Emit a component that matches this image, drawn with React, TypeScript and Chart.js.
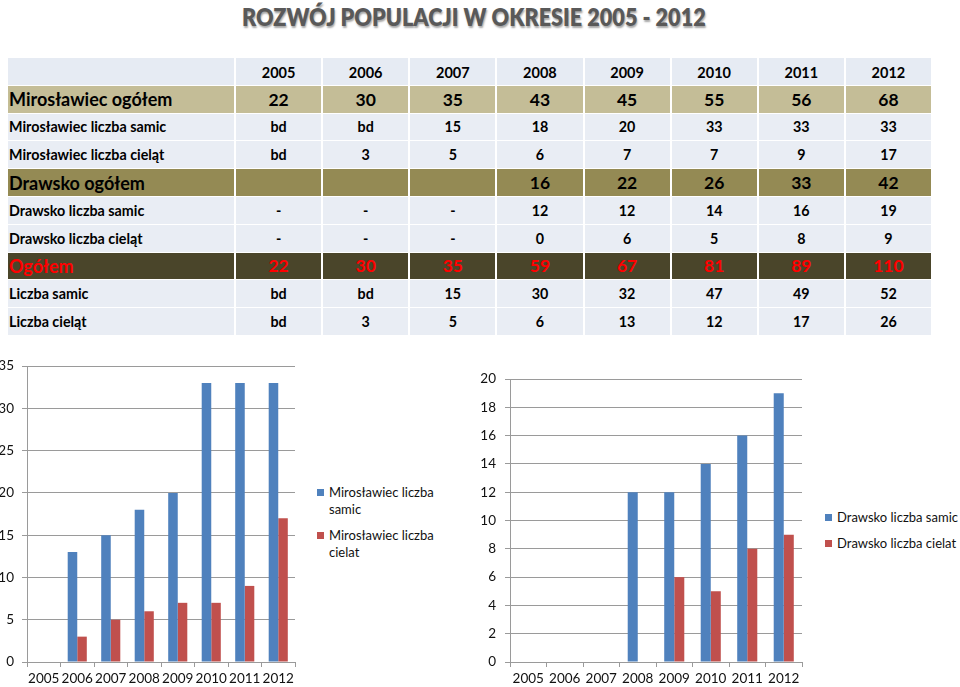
import React, { useEffect, useLayoutEffect, useRef, useState } from 'react';
import { Chart, registerables } from 'chart.js';

Chart.register(...registerables);

const TITLE = 'ROZWÓJ POPULACJI W OKRESIE 2005 - 2012';
const years = ['2005', '2006', '2007', '2008', '2009', '2010', '2011', '2012'];

// table rows
const rowLabels = [
  'Mirosławiec ogółem',
  'Mirosławiec liczba samic',
  'Mirosławiec liczba cieląt',
  'Drawsko ogółem',
  'Drawsko liczba samic',
  'Drawsko liczba cieląt',
  'Ogółem',
  'Liczba samic',
  'Liczba cieląt',
];
const mirOgolem = ['22', '30', '35', '43', '45', '55', '56', '68'];
const mirSamicTab = ['bd', 'bd', '15', '18', '20', '33', '33', '33'];
const mirCielatTab = ['bd', '3', '5', '6', '7', '7', '9', '17'];
const drOgolem = ['', '', '', '16', '22', '26', '33', '42'];
const drSamicTab = ['-', '-', '-', '12', '12', '14', '16', '19'];
const drCielatTab = ['-', '-', '-', '0', '6', '5', '8', '9'];
const ogolem = ['22', '30', '35', '59', '67', '81', '89', '110'];
const liczbaSamic = ['bd', 'bd', '15', '30', '32', '47', '49', '52'];
const liczbaCielat = ['bd', '3', '5', '6', '13', '12', '17', '26'];
const rowValues = [mirOgolem, mirSamicTab, mirCielatTab, drOgolem, drSamicTab, drCielatTab, ogolem, liczbaSamic, liczbaCielat];
const rowKinds = ['tan', 'plain', 'plain', 'olive', 'plain', 'plain', 'dark', 'plain', 'plain'];

// chart series
const mirSamic = [null, 13, 15, 18, 20, 33, 33, 33];
const mirCielat = [null, 3, 5, 6, 7, 7, 9, 17];
const drSamic = [null, null, null, 12, 12, 14, 16, 19];
const drCielat = [null, null, null, 0, 6, 5, 8, 9];

const FONT = "Lato, 'Open Sans', sans-serif";
const BLUE = '#4f81bd';
const RED = '#c0504d';
const AXIS = '#9a9a9a';

type BarProps = {
  left: number; top: number; width: number; height: number;
  a: (number | null)[]; b: (number | null)[];
  aLabel: string; bLabel: string;
  max: number; step: number; yWidth: number; padTop: number; padRight: number;
  tickPad: number; catPct: number;
};

function BarChart(p: BarProps) {
  const ref = useRef<HTMLCanvasElement | null>(null);
  useEffect(() => {
    if (!ref.current) return;
    const chart = new Chart(ref.current, {
      type: 'bar',
      data: {
        labels: years,
        datasets: [
          { label: p.aLabel, data: p.a, backgroundColor: BLUE, borderWidth: 0, categoryPercentage: p.catPct, barPercentage: 1 },
          { label: p.bLabel, data: p.b, backgroundColor: RED, borderWidth: 0, categoryPercentage: p.catPct, barPercentage: 1 },
        ],
      },
      options: {
        responsive: false,
        animation: false,
        layout: { padding: { top: p.padTop, right: p.padRight, left: 0, bottom: 0 } },
        plugins: { legend: { display: false }, tooltip: { enabled: false } },
        scales: {
          x: {
            grid: { display: true, drawOnChartArea: false, drawTicks: true, tickLength: 5, color: AXIS, offset: true },
            border: { display: true, color: AXIS },
            ticks: { font: { family: FONT, size: 13.5 }, color: '#111', padding: 4, maxRotation: 0, autoSkip: false },
            afterFit: (s: any) => { s.height = 25; },
          },
          y: {
            min: 0,
            max: p.max,
            grid: { color: AXIS, tickLength: 5, drawTicks: true },
            border: { display: true, color: AXIS },
            ticks: { stepSize: p.step, font: { family: FONT, size: 13.5 }, color: '#111', padding: p.tickPad },
            afterFit: (s: any) => { s.width = p.yWidth; },
          },
        },
      } as any,
    });
    return () => chart.destroy();
  }, []);
  return (
    <canvas
      ref={ref}
      width={p.width}
      height={p.height}
      style={{ position: 'absolute', left: p.left, top: p.top, width: p.width, height: p.height }}
    />
  );
}

function LegendItem({ x, y, color, lines }: { x: number; y: number; color: string; lines: string[] }) {
  return (
    <div style={{ position: 'absolute', left: x, top: y, fontFamily: FONT, fontSize: 13, lineHeight: '17px', color: '#111', whiteSpace: 'nowrap' }}>
      <div style={{ position: 'absolute', left: 0, top: 5, width: 7, height: 7, background: color }} />
      <div style={{ marginLeft: 12 }}>
        {lines.map((l, i) => (
          <div key={i}>{l}</div>
        ))}
      </div>
    </div>
  );
}

function Title() {
  const ref = useRef<HTMLSpanElement | null>(null);
  const [sx, setSx] = useState(1);
  useLayoutEffect(() => {
    if (ref.current) {
      const w = ref.current.offsetWidth;
      if (w > 0) setSx(464 / w);
    }
  }, []);
  return (
    <div style={{ position: 'absolute', left: 0, top: 1, width: 948, textAlign: 'center' }}>
      <span
        ref={ref}
        style={{
          display: 'inline-block',
          fontFamily: FONT,
          fontWeight: 800,
          fontSize: 25,
          lineHeight: '30px',
          color: '#595959',
          textShadow: '1px 2px 2px rgba(0,0,0,0.35)',
          transform: `scaleX(${sx})`,
          whiteSpace: 'nowrap',
        }}
      >
        {TITLE}
      </span>
    </div>
  );
}

function DataTable() {
  const bgFor = (k: string) =>
    k === 'tan' ? '#c4bd97' : k === 'olive' ? '#948a54' : k === 'dark' ? '#4a452a' : '#e9edf4';
  const cells: React.ReactNode[] = [];
  const cellBase: React.CSSProperties = {
    display: 'flex',
    alignItems: 'center',
    fontFamily: FONT,
    fontWeight: 700,
    overflow: 'hidden',
    whiteSpace: 'nowrap',
  };
  // header
  cells.push(<div key="h0" style={{ ...cellBase, background: '#e6ebf3' }} />);
  years.forEach((y, i) =>
    cells.push(
      <div key={'h' + (i + 1)} style={{ ...cellBase, background: '#e6ebf3', justifyContent: 'center', fontSize: 14.5, color: '#000', paddingTop: 2 }}>
        {y}
      </div>
    )
  );
  rowLabels.forEach((label, r) => {
    const k = rowKinds[r];
    const big = k !== 'plain';
    const color = k === 'dark' ? '#ff0000' : '#000';
    const fs = big ? 18 : 14.3;
    cells.push(
      <div key={'r' + r + 'l'} style={{ ...cellBase, background: bgFor(k), fontSize: fs, color, paddingLeft: 1 }}>
        {label}
      </div>
    );
    rowValues[r].forEach((v, c) =>
      cells.push(
        <div key={'r' + r + 'c' + c} style={{ ...cellBase, background: bgFor(k), justifyContent: 'center', fontSize: big ? 17.5 : 14.3, color }}>
          {v}
        </div>
      )
    );
  });
  return (
    <div
      style={{
        position: 'absolute',
        left: 8,
        top: 58,
        width: 923,
        display: 'grid',
        gridTemplateColumns: '226px repeat(8, 85.125px)',
        gridTemplateRows: 'repeat(10, 26.8px)',
        columnGap: 2,
        rowGap: 1,
        background: '#ffffff',
      }}
    >
      {cells}
    </div>
  );
}

export default function App() {
  return (
    <div style={{ position: 'relative', width: 960, height: 687, overflow: 'hidden', background: '#fff' }}>
      <style>{'body{margin:0;}'}</style>
      <Title />
      <DataTable />
      <BarChart
        left={0} top={350} width={300} height={337}
        a={mirSamic} b={mirCielat}
        aLabel="Mirosławiec liczba samic" bLabel="Mirosławiec liczba cielat"
        max={35} step={5} yWidth={27} padTop={14} padRight={5} tickPad={8} catPct={0.57}
      />
      <LegendItem x={317} y={484} color={BLUE} lines={['Mirosławiec liczba', 'samic']} />
      <LegendItem x={317} y={527} color={RED} lines={['Mirosławiec liczba', 'cielat']} />
      <BarChart
        left={470} top={360} width={340} height={327}
        a={drSamic} b={drCielat}
        aLabel="Drawsko liczba samic" bLabel="Drawsko liczba cielat"
        max={20} step={2} yWidth={40} padTop={19} padRight={8} tickPad={9} catPct={0.55}
      />
      <LegendItem x={825} y={509} color={BLUE} lines={['Drawsko liczba samic']} />
      <LegendItem x={825} y={535} color={RED} lines={['Drawsko liczba cielat']} />
    </div>
  );
}
